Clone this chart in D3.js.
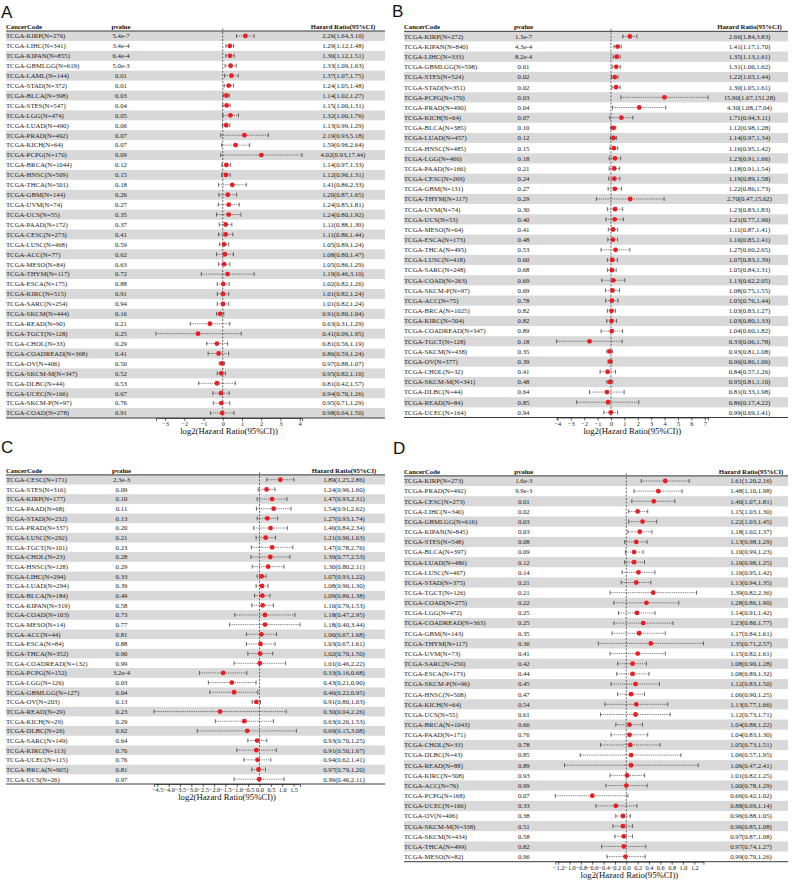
<!DOCTYPE html>
<html><head><meta charset="utf-8">
<script src="https://cdn.jsdelivr.net/npm/d3@7"></script>
<style>
html,body{margin:0;padding:0;background:#fff;}
svg{display:block;}
</style></head>
<body>
<svg id="chart" width="794" height="881"></svg>
<script>
// ---------------- Panel A ----------------
const aCodes = ["TCGA-KIRP(N=276)","TCGA-LIHC(N=341)","TCGA-KIPAN(N=855)","TCGA-GBMLGG(N=619)","TCGA-LAML(N=144)","TCGA-STAD(N=372)","TCGA-BLCA(N=398)","TCGA-STES(N=547)","TCGA-LGG(N=474)","TCGA-LUAD(N=490)","TCGA-PRAD(N=492)","TCGA-KICH(N=64)","TCGA-PCPG(N=170)","TCGA-BRCA(N=1044)","TCGA-HNSC(N=509)","TCGA-THCA(N=501)","TCGA-GBM(N=144)","TCGA-UVM(N=74)","TCGA-UCS(N=55)","TCGA-PAAD(N=172)","TCGA-CESC(N=273)","TCGA-LUSC(N=468)","TCGA-ACC(N=77)","TCGA-MESO(N=84)","TCGA-THYM(N=117)","TCGA-ESCA(N=175)","TCGA-KIRC(N=515)","TCGA-SARC(N=254)","TCGA-SKCM(N=444)","TCGA-READ(N=90)","TCGA-TGCT(N=128)","TCGA-CHOL(N=33)","TCGA-COADREAD(N=368)","TCGA-OV(N=406)","TCGA-SKCM-M(N=347)","TCGA-DLBC(N=44)","TCGA-UCEC(N=166)","TCGA-SKCM-P(N=97)","TCGA-COAD(N=278)"];
const aP = ["5.4e-7","3.4e-4","6.4e-4","5.0e-3","0.01","0.01","0.03","0.04","0.05","0.06","0.07","0.07","0.09","0.12","0.15","0.18","0.26","0.27","0.35","0.37","0.41","0.59","0.62","0.63","0.72","0.88","0.91","0.94","0.16","0.21","0.25","0.29","0.41","0.50","0.52","0.53","0.67","0.76","0.91"];
const aHR = [2.26,1.29,1.30,1.33,1.37,1.24,1.14,1.15,1.32,1.13,2.19,1.59,4.02,1.14,1.12,1.41,1.20,1.24,1.24,1.11,1.11,1.05,1.08,1.05,1.19,1.02,1.01,1.01,0.91,0.63,0.41,0.81,0.86,0.97,0.95,0.81,0.94,0.95,0.98];
const aLo = [1.64,1.12,1.12,1.09,1.07,1.05,1.02,1.00,1.00,0.99,0.93,0.96,0.93,0.97,0.96,0.86,0.87,0.85,0.80,0.88,0.86,0.89,0.80,0.86,0.46,0.82,0.82,0.82,0.80,0.31,0.09,0.56,0.59,0.88,0.82,0.42,0.70,0.71,0.64];
const aHi = [3.10,1.48,1.51,1.63,1.75,1.48,1.27,1.31,1.76,1.29,5.18,2.64,17.44,1.33,1.31,2.33,1.65,1.81,1.92,1.39,1.44,1.24,1.47,1.29,3.10,1.26,1.24,1.24,1.04,1.29,1.95,1.19,1.24,1.07,1.10,1.57,1.26,1.29,1.50];
const aTicks = [-3,-2,-1,0,1,2,3,4];

// ---------------- Panel B ----------------
const bCodes = ["TCGA-KIRP(N=272)","TCGA-KIPAN(N=840)","TCGA-LIHC(N=333)","TCGA-GBMLGG(N=598)","TCGA-STES(N=524)","TCGA-STAD(N=351)","TCGA-PCPG(N=170)","TCGA-PRAD(N=490)","TCGA-KICH(N=64)","TCGA-BLCA(N=385)","TCGA-LUAD(N=457)","TCGA-HNSC(N=485)","TCGA-LGG(N=466)","TCGA-PAAD(N=166)","TCGA-CESC(N=269)","TCGA-GBM(N=131)","TCGA-THYM(N=117)","TCGA-UVM(N=74)","TCGA-UCS(N=53)","TCGA-MESO(N=64)","TCGA-ESCA(N=173)","TCGA-THCA(N=495)","TCGA-LUSC(N=418)","TCGA-SARC(N=248)","TCGA-COAD(N=263)","TCGA-SKCM-P(N=97)","TCGA-ACC(N=75)","TCGA-BRCA(N=1025)","TCGA-KIRC(N=504)","TCGA-COADREAD(N=347)","TCGA-TGCT(N=128)","TCGA-SKCM(N=438)","TCGA-OV(N=377)","TCGA-CHOL(N=32)","TCGA-SKCM-M(N=341)","TCGA-DLBC(N=44)","TCGA-READ(N=84)","TCGA-UCEC(N=164)"];
const bP = ["1.3e-7","4.3e-4","8.2e-4","0.01","0.02","0.02","0.03","0.04","0.07","0.10","0.12","0.15","0.18","0.21","0.24","0.27","0.29","0.30","0.40","0.41","0.48","0.53","0.60","0.68","0.69","0.69","0.78","0.82","0.82","0.89","0.18","0.35","0.39","0.41","0.48","0.64","0.85","0.94"];
const bHR = [2.66,1.41,1.35,1.31,1.22,1.30,15.90,4.30,1.71,1.12,1.14,1.16,1.23,1.18,1.19,1.22,2.70,1.23,1.21,1.11,1.10,1.27,1.07,1.05,1.13,1.08,1.05,1.03,1.03,1.04,0.33,0.93,0.96,0.84,0.95,0.81,0.86,0.99];
const bLo = [1.84,1.17,1.13,1.06,1.03,1.05,1.67,1.08,0.94,0.98,0.97,0.95,0.91,0.91,0.89,0.86,0.47,0.83,0.77,0.87,0.85,0.60,0.83,0.84,0.62,0.75,0.76,0.83,0.80,0.60,0.06,0.81,0.86,0.57,0.81,0.33,0.17,0.69];
const bHi = [3.83,1.70,1.61,1.62,1.44,1.61,151.28,17.04,3.11,1.28,1.34,1.42,1.66,1.54,1.58,1.73,15.62,1.83,1.90,1.41,1.41,2.65,1.39,1.31,2.05,1.55,1.44,1.27,1.33,1.82,1.78,1.08,1.06,1.26,1.10,1.98,4.22,1.41];
const bTicks = [-4,-3,-2,-1,0,1,2,3,4,5,6,7];

// ---------------- Panel C ----------------
const cCodes = ["TCGA-CESC(N=171)","TCGA-STES(N=316)","TCGA-KIRP(N=177)","TCGA-PAAD(N=68)","TCGA-STAD(N=232)","TCGA-PRAD(N=337)","TCGA-LUSC(N=292)","TCGA-TGCT(N=101)","TCGA-CHOL(N=23)","TCGA-HNSC(N=128)","TCGA-LIHC(N=294)","TCGA-LUAD(N=294)","TCGA-BLCA(N=184)","TCGA-KIPAN(N=319)","TCGA-COAD(N=103)","TCGA-MESO(N=14)","TCGA-ACC(N=44)","TCGA-ESCA(N=84)","TCGA-THCA(N=352)","TCGA-COADREAD(N=132)","TCGA-PCPG(N=152)","TCGA-LGG(N=126)","TCGA-GBMLGG(N=127)","TCGA-OV(N=203)","TCGA-READ(N=29)","TCGA-KICH(N=29)","TCGA-DLBC(N=26)","TCGA-SARC(N=149)","TCGA-KIRC(N=113)","TCGA-UCEC(N=115)","TCGA-BRCA(N=905)","TCGA-UCS(N=26)"];
const cP = ["2.3e-3","0.09","0.10","0.11","0.13","0.20","0.21","0.23","0.28","0.29","0.33","0.39","0.49","0.58","0.73","0.77","0.81","0.88","0.90","0.99","3.2e-4","0.03","0.04","0.13","0.23","0.29","0.62","0.64","0.76","0.76","0.81","0.97"];
const cHR = [1.89,1.24,1.47,1.54,1.27,1.40,1.21,1.47,1.39,1.30,1.07,1.08,1.09,1.10,1.18,1.18,1.06,1.03,1.02,1.01,0.33,0.43,0.46,0.91,0.30,0.63,0.69,0.93,0.91,0.94,0.97,0.99];
const cLo = [1.25,0.96,0.93,0.91,0.93,0.84,0.90,0.78,0.77,0.80,0.93,0.90,0.86,0.79,0.47,0.40,0.67,0.67,0.70,0.46,0.16,0.21,0.22,0.80,0.04,0.26,0.15,0.70,0.50,0.62,0.79,0.46];
const cHi = [2.86,1.60,2.31,2.62,1.74,2.34,1.63,2.76,2.53,2.11,1.22,1.30,1.38,1.53,2.95,3.44,1.68,1.61,1.50,2.22,0.68,0.90,0.95,1.03,2.26,1.53,3.08,1.25,1.67,1.41,1.20,2.11];
const cTicks = [-4.5,-4.0,-3.5,-3.0,-2.5,-2.0,-1.5,-1.0,-0.5,0.0,0.5,1.0,1.5];

// ---------------- Panel D ----------------
const dCodes = ["TCGA-KIRP(N=273)","TCGA-PRAD(N=492)","TCGA-CESC(N=273)","TCGA-LIHC(N=340)","TCGA-GBMLGG(N=616)","TCGA-KIPAN(N=845)","TCGA-STES(N=548)","TCGA-BLCA(N=397)","TCGA-LUAD(N=486)","TCGA-LUSC(N=467)","TCGA-STAD(N=375)","TCGA-TGCT(N=126)","TCGA-COAD(N=275)","TCGA-LGG(N=472)","TCGA-COADREAD(N=363)","TCGA-GBM(N=143)","TCGA-THYM(N=117)","TCGA-UVM(N=73)","TCGA-SARC(N=250)","TCGA-ESCA(N=173)","TCGA-SKCM-P(N=96)","TCGA-HNSC(N=508)","TCGA-KICH(N=64)","TCGA-UCS(N=55)","TCGA-BRCA(N=1043)","TCGA-PAAD(N=171)","TCGA-CHOL(N=33)","TCGA-DLBC(N=43)","TCGA-READ(N=88)","TCGA-KIRC(N=508)","TCGA-ACC(N=76)","TCGA-PCPG(N=168)","TCGA-UCEC(N=166)","TCGA-OV(N=406)","TCGA-SKCM-M(N=338)","TCGA-SKCM(N=434)","TCGA-THCA(N=499)","TCGA-MESO(N=82)"];
const dP = ["1.6e-3","9.9e-3","0.01","0.02","0.03","0.03","0.08","0.09","0.12","0.14","0.21","0.21","0.22","0.25","0.25","0.35","0.36","0.41","0.42","0.44","0.45","0.47","0.54","0.61","0.66","0.76","0.78","0.85","0.89","0.93","0.99","0.07","0.33","0.38","0.51","0.58","0.82","0.96"];
const dHR = [1.61,1.48,1.40,1.15,1.22,1.18,1.13,1.10,1.10,1.16,1.13,1.39,1.28,1.14,1.23,1.17,1.35,1.15,1.08,1.08,1.12,1.06,1.13,1.12,1.04,1.04,1.05,1.06,1.06,1.01,1.00,0.66,0.88,0.96,0.96,0.97,0.97,0.99];
const dLo = [1.20,1.10,1.07,1.03,1.03,1.02,0.98,0.99,0.98,0.95,0.94,0.82,0.86,0.91,0.86,0.84,0.71,0.82,0.90,0.89,0.83,0.90,0.77,0.73,0.88,0.83,0.73,0.57,0.47,0.82,0.78,0.42,0.69,0.88,0.85,0.87,0.74,0.79];
const dHi = [2.16,1.98,1.81,1.30,1.45,1.37,1.29,1.23,1.25,1.42,1.35,2.36,1.90,1.42,1.77,1.61,2.57,1.61,1.28,1.32,1.50,1.25,1.66,1.71,1.22,1.30,1.51,1.95,2.41,1.25,1.29,1.02,1.14,1.05,1.08,1.08,1.27,1.26];
const dTicks = [-1.2,-1.0,-0.8,-0.6,-0.4,-0.2,0.0,0.2,0.4,0.6,0.8,1.0,1.2];

// ---------------- layout ----------------
const panels = [
  {label:"A", codes:aCodes, p:aP, hr:aHR, lo:aLo, hi:aHi, ticks:aTicks, fmt:d3.format("d"),
   lx:1, ly:18, left:6, right:385, pX:121, hrX:343, top:31, bottom:418, range:[156,302]},
  {label:"B", codes:bCodes, p:bP, hr:bHR, lo:bLo, hi:bHi, ticks:bTicks, fmt:d3.format("d"),
   lx:392, ly:17, left:404, right:788, pX:523.5, hrX:749.5, top:31.3, bottom:417.5, range:[556.6,708]},
  {label:"C", codes:cCodes, p:cP, hr:cHR, lo:cLo, hi:cHi, ticks:cTicks, fmt:d3.format(".1f"),
   lx:1, ly:453, left:6, right:385, pX:121.5, hrX:344, top:474.9, bottom:784, range:[154,300]},
  {label:"D", codes:dCodes, p:dP, hr:dHR, lo:dLo, hi:dHi, ticks:dTicks, fmt:d3.format(".1f"),
   lx:393, ly:454, left:404, right:788, pX:523.8, hrX:751, top:475.9, bottom:861.7, range:[555.3,703.5]}
];

const svg = d3.select("#chart");
const serif = "'Liberation Serif','Times New Roman',serif";
const fs = 6.75;
const hrText = (h,l,u) => `${h.toFixed(2)}(${l.toFixed(2)},${u.toFixed(2)})`;

panels.forEach(P => {
  const g = svg.append("g");
  const n = P.codes.length;
  const rows = d3.range(n);
  const y = d3.scaleBand().domain(rows).range([P.top, P.bottom]).padding(0);
  const yc = i => y(i) + y.bandwidth()/2;
  const lg = P.hr.map(Math.log2), llo = P.lo.map(Math.log2), lhi = P.hi.map(Math.log2);
  const x = d3.scaleLinear().domain([d3.min(llo), d3.max(lhi)]).range(P.range);

  // panel letter
  g.append("text").attr("x", P.lx).attr("y", P.ly)
    .attr("font-family","'Liberation Sans',Arial,sans-serif").attr("font-size",17).attr("fill","#111")
    .text(P.label);

  // zebra bands
  g.selectAll("rect.band").data(rows.filter(i => i % 2 === 0)).enter().append("rect")
    .attr("x", P.left).attr("width", P.right - P.left)
    .attr("y", i => y(i)).attr("height", y.bandwidth())
    .attr("fill", "#d9d9d9");

  // header
  const hy = P.top - 2.2;
  const head = g.append("g").attr("font-family", serif).attr("font-size", fs).attr("font-weight","bold").attr("fill","#111");
  head.append("text").attr("x", P.left).attr("y", hy).text("CancerCode");
  head.append("text").attr("x", P.pX).attr("y", hy).attr("text-anchor","middle").text("pvalue");
  head.append("text").attr("x", P.hrX).attr("y", hy).attr("text-anchor","middle").text("Hazard Ratio(95%CI)");
  g.append("line").attr("x1", P.left).attr("x2", P.right).attr("y1", P.top).attr("y2", P.top)
    .attr("stroke","#222").attr("stroke-width",0.9);

  // text columns
  const tg = g.append("g").attr("font-family", serif).attr("font-size", fs).attr("fill","#222");
  tg.selectAll("text.code").data(rows).enter().append("text")
    .attr("x", P.left).attr("y", i => yc(i)).attr("dy","0.35em").text(i => P.codes[i]);
  tg.selectAll("text.pv").data(rows).enter().append("text")
    .attr("x", P.pX).attr("y", i => yc(i)).attr("dy","0.35em").attr("text-anchor","middle").text(i => P.p[i]);
  tg.selectAll("text.hr").data(rows).enter().append("text")
    .attr("x", P.hrX).attr("y", i => yc(i)).attr("dy","0.35em").attr("text-anchor","middle")
    .text(i => hrText(P.hr[i], P.lo[i], P.hi[i]));

  // reference line at 0
  g.append("line").attr("x1", x(0)).attr("x2", x(0)).attr("y1", P.top - 2.5).attr("y2", P.bottom)
    .attr("stroke","#444").attr("stroke-width",0.8).attr("stroke-dasharray","2,1.5");

  // CI whiskers
  const cap = 2;
  g.selectAll("line.ci").data(rows).enter().append("line")
    .attr("x1", i => x(llo[i])).attr("x2", i => x(lhi[i]))
    .attr("y1", i => yc(i)).attr("y2", i => yc(i))
    .attr("stroke","#333").attr("stroke-width",0.6).attr("stroke-dasharray","1.3,0.9");
  g.selectAll("line.capL").data(rows).enter().append("line")
    .attr("x1", i => x(llo[i])).attr("x2", i => x(llo[i]))
    .attr("y1", i => yc(i)-cap).attr("y2", i => yc(i)+cap)
    .attr("stroke","#333").attr("stroke-width",0.7);
  g.selectAll("line.capR").data(rows).enter().append("line")
    .attr("x1", i => x(lhi[i])).attr("x2", i => x(lhi[i]))
    .attr("y1", i => yc(i)-cap).attr("y2", i => yc(i)+cap)
    .attr("stroke","#333").attr("stroke-width",0.7);
  g.selectAll("circle.pt").data(rows).enter().append("circle")
    .attr("cx", i => x(lg[i])).attr("cy", i => yc(i)).attr("r", 2.4)
    .attr("fill","#ec1c24");

  // bottom line
  g.append("line").attr("x1", P.left).attr("x2", P.right).attr("y1", P.bottom).attr("y2", P.bottom)
    .attr("stroke","#222").attr("stroke-width",0.9);

  // axis
  const ax = d3.axisBottom(x).tickValues(P.ticks).tickFormat(P.fmt).tickSize(3).tickSizeOuter(3).tickPadding(1);
  const ag = g.append("g").attr("transform", `translate(0,${P.bottom})`).call(ax);
  ag.select(".domain").attr("stroke","#222").attr("stroke-width",0.7);
  ag.selectAll(".tick line").attr("stroke","#222").attr("stroke-width",0.7);
  ag.selectAll(".tick text").attr("font-family", serif).attr("font-size",6.3).attr("fill","#222");

  g.append("text").attr("x", (P.range[0]+P.range[1])/2).attr("y", P.bottom + 16)
    .attr("text-anchor","middle").attr("font-family", serif).attr("font-size",8.7).attr("fill","#111")
    .text("log2(Hazard Ratio(95%CI))");
});
</script>
</body></html>
